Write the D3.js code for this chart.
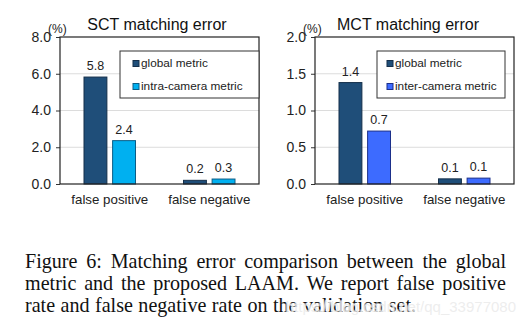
<!DOCTYPE html>
<html>
<head>
<meta charset="utf-8">
<script src="https://cdn.jsdelivr.net/npm/d3@7"></script>
<style>
  body { margin: 0; background: #fff; }
  svg { display: block; }
</style>
</head>
<body>
<svg id="fig" width="530" height="325"></svg>
<script>
// data
var categories = ["false positive", "false negative"];

var sctTitle = "SCT matching error";
var sctSeries = ["global metric", "intra-camera metric"];
var sctGlobal = [5.82, 0.2];
var sctIntra = [2.36, 0.27];
var sctTicks = [0, 2, 4, 6, 8];

var mctTitle = "MCT matching error";
var mctSeries = ["global metric", "inter-camera metric"];
var mctGlobal = [1.38, 0.07];
var mctInter = [0.72, 0.08];
var mctTicks = [0, 0.5, 1, 1.5, 2];

var captionLines = [
  "Figure 6:  Matching error comparison between the global",
  "metric and the proposed LAAM. We report false positive",
  "rate and false negative rate on the validation set."
];

var svg = d3.select("#fig");
var fmt = d3.format(".1f");
var sans = "'Liberation Sans', Arial, sans-serif";

function panel(opt) {
  var g = svg.append("g");
  var x = d3.scaleBand().domain(categories).range([opt.left, opt.right]).padding(0);
  var bw = x.bandwidth();
  var sub = d3.scaleBand().domain([0, 1]).range([24, bw - 24]).paddingInner(0.2).paddingOuter(0);
  var y = d3.scaleLinear().domain([0, d3.max(opt.ticks)]).range([opt.bottom, opt.top]);

  // grid lines
  g.selectAll(".grid").data(opt.ticks.slice(1, -1)).enter().append("line")
    .attr("x1", opt.left).attr("x2", opt.right)
    .attr("y1", function(d) { return y(d); }).attr("y2", function(d) { return y(d); })
    .attr("stroke", "#dcdcdc").attr("stroke-width", 1);

  // y axis
  var ax = g.append("g").attr("transform", "translate(" + opt.left + ",0)")
    .call(d3.axisLeft(y).tickValues(opt.ticks).tickFormat(fmt).tickSize(4).tickPadding(5));
  ax.select(".domain").remove();
  ax.selectAll("line").attr("stroke", "#333");
  ax.selectAll("text").attr("font-family", sans).attr("font-size", 14).attr("fill", "#222");

  g.append("text").attr("x", opt.left - 12).attr("y", opt.top - 4)
    .attr("font-family", sans).attr("font-size", 12).attr("fill", "#222").text("(%)");

  // bars
  var rows = [];
  categories.forEach(function(c, i) {
    rows.push({ c: c, s: 0, v: opt.a[i] });
    rows.push({ c: c, s: 1, v: opt.b[i] });
  });
  var colors = ["#1f4e79", opt.color2];
  var strokes = ["#142f4a", opt.stroke2];

  g.selectAll(".bar").data(rows).enter().append("rect")
    .attr("x", function(d) { return x(d.c) + sub(d.s); })
    .attr("width", sub.bandwidth())
    .attr("y", function(d) { return y(d.v); })
    .attr("height", function(d) { return opt.bottom - y(d.v); })
    .attr("fill", function(d) { return colors[d.s]; })
    .attr("stroke", function(d) { return strokes[d.s]; })
    .attr("stroke-width", 1);

  g.selectAll(".val").data(rows).enter().append("text")
    .attr("x", function(d) { return x(d.c) + sub(d.s) + sub.bandwidth() / 2; })
    .attr("y", function(d) { return y(d.v) - 7; })
    .attr("text-anchor", "middle")
    .attr("font-family", sans).attr("font-size", 12.5).attr("fill", "#222")
    .text(function(d) { return fmt(d.v); });

  // category labels
  g.selectAll(".cat").data(categories).enter().append("text")
    .attr("x", function(d) { return x(d) + bw / 2; })
    .attr("y", opt.bottom + 20)
    .attr("text-anchor", "middle")
    .attr("font-family", sans).attr("font-size", 13.3).attr("fill", "#222")
    .text(function(d) { return d; });

  // frame
  g.append("rect").attr("x", opt.left).attr("y", opt.top)
    .attr("width", opt.right - opt.left).attr("height", opt.bottom - opt.top)
    .attr("fill", "none").attr("stroke", "#222").attr("stroke-width", 1.2);

  // title
  g.append("text").attr("x", opt.titleX).attr("y", 30).attr("text-anchor", "middle")
    .attr("font-family", sans).attr("font-size", 16).attr("fill", "#111").text(opt.title);

  // legend
  var lg = g.append("g");
  lg.append("rect").attr("x", opt.legX).attr("y", 51).attr("width", opt.legW).attr("height", 47)
    .attr("fill", "#fff").attr("stroke", "#333").attr("stroke-width", 1);
  opt.series.forEach(function(s, i) {
    lg.append("rect").attr("x", opt.legX + opt.swOff).attr("y", 60.5 + i * 23)
      .attr("width", 6).attr("height", 6)
      .attr("fill", colors[i]).attr("stroke", strokes[i]).attr("stroke-width", 1);
    lg.append("text").attr("x", opt.legX + opt.swOff + 8).attr("y", 67 + i * 23)
      .attr("font-family", sans).attr("font-size", 11.8).attr("fill", "#222").text(s);
  });
}

panel({ left: 60, right: 259, top: 37, bottom: 184, ticks: sctTicks, a: sctGlobal, b: sctIntra,
  color2: "#00b0f0", stroke2: "#0b5d86", title: sctTitle, titleX: 157, series: sctSeries,
  legX: 120, legW: 139, swOff: 13 });
panel({ left: 315, right: 514, top: 37, bottom: 184, ticks: mctTicks, a: mctGlobal, b: mctInter,
  color2: "#3d6bff", stroke2: "#1b2f8a", title: mctTitle, titleX: 408, series: mctSeries,
  legX: 377, legW: 128, swOff: 10 });

// caption, justified like the paper; size picked so the last line ends where it does
var serif = "'Liberation Serif', 'Times New Roman', serif";
var capLeft = 25, capRight = 506, lastEnd = 413;
var probe = svg.append("text").attr("font-family", serif).attr("font-size", 20)
  .text(captionLines[2]);
var capSize = 20 * (lastEnd - capLeft) / probe.node().getComputedTextLength();
probe.remove();

captionLines.forEach(function(line, li) {
  var yy = 268 + li * 22;
  var words = line.split(/\s+/);
  var ts = words.map(function(w) {
    return svg.append("text").attr("y", yy).attr("font-family", serif)
      .attr("font-size", capSize).attr("fill", "#111").text(w);
  });
  var widths = ts.map(function(t) { return t.node().getComputedTextLength(); });
  var total = d3.sum(widths);
  var gap = li < captionLines.length - 1 ?
    (capRight - capLeft - total) / (words.length - 1) : capSize * 0.27;
  var cx = capLeft;
  ts.forEach(function(t, i) {
    t.attr("x", cx);
    cx += widths[i] + gap;
  });
});

// faint watermark of the source page
svg.append("text").attr("x", 516).attr("y", 312).attr("text-anchor", "end")
  .attr("font-family", sans).attr("font-size", 15)
  .attr("fill", "#cfcfcf").attr("fill-opacity", 0.8)
  .attr("stroke", "#fff").attr("stroke-opacity", 0.55).attr("stroke-width", 2)
  .text("https://blog.csdn.net/qq_33977080");
</script>
</body>
</html>
